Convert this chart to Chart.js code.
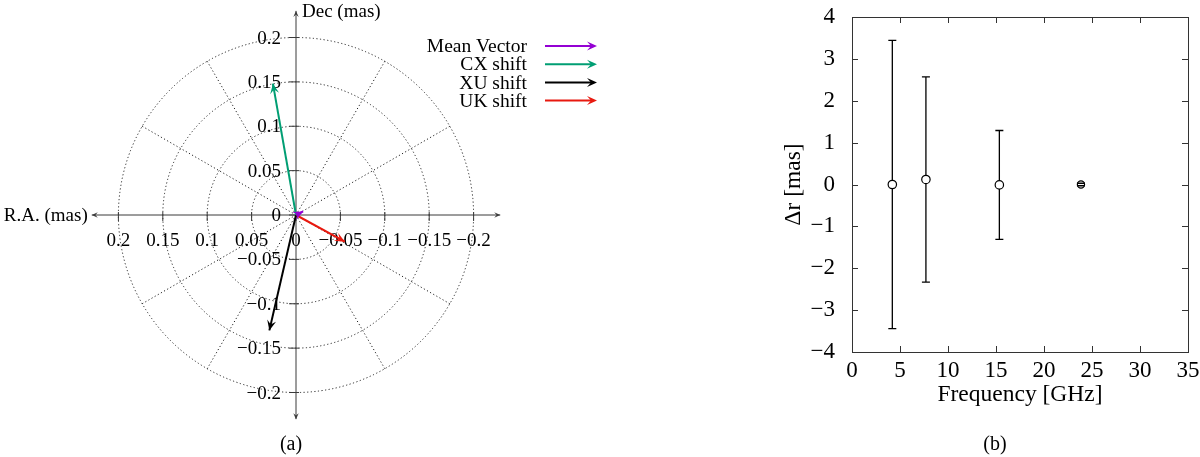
<!DOCTYPE html>
<html>
<head>
<meta charset="utf-8">
<title>Core shift vectors</title>
<script src="https://cdn.jsdelivr.net/npm/chart.js@4.4.0/dist/chart.umd.min.js"></script>
<style>
    body { margin: 0; background: #fff; width: 1200px; height: 457px; position: relative; overflow: hidden; }
    #chartA { position: absolute; left: 0; top: 0; }
    #chartB { position: absolute; left: 600px; top: 0; }
    .cap { position: absolute; top: 431px; width: 60px; text-align: center; font: 20px "Liberation Serif", serif; line-height: 24px; color: #000; }
</style>
</head>
<body>
<canvas id="chartA" width="600" height="457"></canvas>
<canvas id="chartB" width="600" height="457"></canvas>
<div class="cap" style="left:261px">(a)</div>
<div class="cap" style="left:965px">(b)</div>

<script>
// panel (a): shift vectors, R.A. / Dec in mas
const vectorNames = ['Mean Vector', 'CX shift', 'XU shift', 'UK shift'];
const vectorColors = ['#9400d3', '#009e73', '#000000', '#e8190f'];
const raShift = [-0.008, 0.026, 0.030, -0.055];
const decShift = [0.004, 0.148, -0.130, -0.030];
const ringRadii = [0.05, 0.1, 0.15, 0.2];
const spokeAngles = [30, 60, 120, 150, 210, 240, 300, 330];
const polarTicks = [-0.2, -0.15, -0.1, -0.05, 0, 0.05, 0.1, 0.15, 0.2];

// panel (b): radial offset vs frequency
const freqGHz = [4.2, 7.7, 15.35, 23.85];
const deltaR = [0.0, 0.12, -0.01, 0.0];
const deltaRErr = [3.44, 2.45, 1.30, 0.03];

const serif = '"Liberation Serif", "DejaVu Serif", serif';
const fmt = v => (v < 0 ? '\u2212' + Math.abs(v) : String(v));

function arrowHead(ctx, x0, y0, x1, y1, color, size) {
    const a = Math.atan2(y1 - y0, x1 - x0);
    const w = size * 0.45;
    ctx.save();
    ctx.translate(x1, y1);
    ctx.rotate(a);
    ctx.fillStyle = color;
    ctx.beginPath();
    ctx.moveTo(0, 0);
    ctx.lineTo(-size, -w);
    ctx.lineTo(-size * 0.6, 0);
    ctx.lineTo(-size, w);
    ctx.closePath();
    ctx.fill();
    ctx.restore();
}

const polarFrame = {
    id: 'polarFrame',
    beforeDatasetsDraw(chart) {
        const {ctx, scales: {x, y}} = chart;
        const cx = x.getPixelForValue(0), cy = y.getPixelForValue(0);
        const rMax = ringRadii[ringRadii.length - 1];
        const reach = 0.23;
        ctx.save();
        // dotted rings and spokes
        ctx.strokeStyle = '#222';
        ctx.lineWidth = 1;
        ctx.setLineDash([1.2, 2.4]);
        ringRadii.forEach(r => {
            ctx.beginPath();
            ctx.ellipse(cx, cy, Math.abs(x.getPixelForValue(r) - cx), Math.abs(y.getPixelForValue(r) - cy), 0, 0, Math.PI * 2);
            ctx.stroke();
        });
        spokeAngles.forEach(deg => {
            const t = deg * Math.PI / 180;
            ctx.beginPath();
            ctx.moveTo(cx, cy);
            ctx.lineTo(x.getPixelForValue(-rMax * Math.cos(t)), y.getPixelForValue(rMax * Math.sin(t)));
            ctx.stroke();
        });
        ctx.setLineDash([]);

        // axes through the origin, arrows on both ends
        const xl = x.getPixelForValue(reach), xr = x.getPixelForValue(-reach);
        const yt = y.getPixelForValue(reach), yb = y.getPixelForValue(-reach);
        ctx.strokeStyle = '#3a3a3a';
        ctx.beginPath();
        ctx.moveTo(xl, cy); ctx.lineTo(xr, cy);
        ctx.moveTo(cx, yt); ctx.lineTo(cx, yb);
        ctx.stroke();
        arrowHead(ctx, cx, cy, xl, cy, '#3a3a3a', 6);
        arrowHead(ctx, cx, cy, xr, cy, '#3a3a3a', 6);
        arrowHead(ctx, cx, cy, cx, yt, '#3a3a3a', 6);
        arrowHead(ctx, cx, cy, cx, yb, '#3a3a3a', 6);

        // ticks and tick labels
        ctx.fillStyle = '#000';
        ctx.font = '19px ' + serif;
        ctx.textBaseline = 'alphabetic';
        polarTicks.forEach(v => {
            const px = x.getPixelForValue(v);
            const py = y.getPixelForValue(v);
            ctx.beginPath();
            ctx.moveTo(px, cy - 3); ctx.lineTo(px, cy + 6);
            ctx.moveTo(cx - 7, py); ctx.lineTo(cx + 3, py);
            ctx.stroke();
            ctx.textAlign = 'center';
            ctx.fillText(fmt(v), px, cy + 31);
            ctx.textAlign = 'right';
            ctx.fillText(fmt(v), cx - 15, py + 6);
        });

        // axis names
        ctx.textAlign = 'right';
        ctx.fillText('R.A. (mas)', xl - 4, cy + 6);
        ctx.textAlign = 'left';
        ctx.fillText('Dec (mas)', cx + 6, yt + 6);
        ctx.restore();
    },
    afterDatasetsDraw(chart) {
        const {ctx} = chart;
        for (let i = chart.data.datasets.length - 1; i >= 0; i--) {
            const pts = chart.getDatasetMeta(i).data;
            const ds = chart.data.datasets[i];
            arrowHead(ctx, pts[0].x, pts[0].y, pts[1].x, pts[1].y, ds.borderColor, 10);
        }
        // legend, text left of a short arrow
        ctx.save();
        ctx.font = '19.5px ' + serif;
        ctx.textAlign = 'right';
        ctx.textBaseline = 'middle';
        chart.data.datasets.forEach((ds, i) => {
            const ly = 46 + i * 18.2;
            ctx.fillStyle = '#000';
            ctx.fillText(ds.label, 527, ly + 1);
            ctx.strokeStyle = ds.borderColor;
            ctx.lineWidth = 2;
            ctx.beginPath();
            ctx.moveTo(545, ly); ctx.lineTo(592, ly);
            ctx.stroke();
            arrowHead(ctx, 545, ly, 597, ly, ds.borderColor, 10);
        });
        ctx.restore();
    }
};

new Chart(document.getElementById('chartA'), {
    type: 'scatter',
    data: {
        datasets: vectorNames.map((name, i) => ({
            label: name,
            data: [{x: 0, y: 0}, {x: raShift[i], y: decShift[i]}],
            showLine: true,
            borderColor: vectorColors[i],
            backgroundColor: vectorColors[i],
            borderWidth: 2,
            pointRadius: 0
        }))
    },
    options: {
        responsive: false,
        animation: false,
        layout: { padding: { left: 74, right: 82, top: 2, bottom: 29 } },
        scales: {
            x: { type: 'linear', min: -0.25, max: 0.25, reverse: true, display: false },
            y: { type: 'linear', min: -0.24, max: 0.24, display: false }
        },
        plugins: { legend: { display: false }, tooltip: { enabled: false } }
    },
    plugins: [polarFrame]
});

// panel (b) helpers: error bars and inward ticks on all four sides
const errorBars = {
    id: 'errorBars',
    afterDatasetsDraw(chart) {
        const {ctx, scales: {x, y}} = chart;
        const meta = chart.getDatasetMeta(0);
        ctx.save();
        ctx.strokeStyle = '#000';
        ctx.lineWidth = 1.3;
        freqGHz.forEach((f, i) => {
            const px = x.getPixelForValue(f);
            const pc = y.getPixelForValue(deltaR[i]);
            const pt = y.getPixelForValue(deltaR[i] + deltaRErr[i]);
            const pb = y.getPixelForValue(deltaR[i] - deltaRErr[i]);
            const r = meta.data[i].options.radius;
            ctx.beginPath();
            if (pc - r > pt) { ctx.moveTo(px, pt); ctx.lineTo(px, pc - r); }
            if (pc + r < pb) { ctx.moveTo(px, pc + r); ctx.lineTo(px, pb); }
            ctx.moveTo(px - 4, pt); ctx.lineTo(px + 4, pt);
            ctx.moveTo(px - 4, pb); ctx.lineTo(px + 4, pb);
            ctx.stroke();
        });
        ctx.restore();
    },
    afterDraw(chart) {
        const {ctx, chartArea: a, scales: {x, y}} = chart;
        ctx.save();
        ctx.strokeStyle = '#333';
        ctx.lineWidth = 1;
        ctx.strokeRect(a.left + 0.5, a.top + 0.5, a.right - a.left, a.bottom - a.top);
        ctx.beginPath();
        x.ticks.forEach(t => {
            const px = Math.round(x.getPixelForValue(t.value)) + 0.5;
            ctx.moveTo(px, a.bottom); ctx.lineTo(px, a.bottom - 6);
            ctx.moveTo(px, a.top); ctx.lineTo(px, a.top + 6);
        });
        y.ticks.forEach(t => {
            const py = Math.round(y.getPixelForValue(t.value)) + 0.5;
            ctx.moveTo(a.left, py); ctx.lineTo(a.left + 6, py);
            ctx.moveTo(a.right, py); ctx.lineTo(a.right - 6, py);
        });
        ctx.stroke();
        ctx.restore();
    }
};

new Chart(document.getElementById('chartB'), {
    type: 'scatter',
    data: {
        datasets: [{
            label: 'Δr',
            data: freqGHz.map((f, i) => ({x: f, y: deltaR[i]})),
            pointRadius: [4.2, 4.2, 4.2, 3.6],
            pointBorderColor: '#000',
            pointBackgroundColor: '#fff',
            pointBorderWidth: 1.2
        }]
    },
    options: {
        responsive: false,
        animation: false,
        layout: { autoPadding: false, padding: { left: 180, right: 12, top: 17, bottom: 48 } },
        scales: {
            x: {
                type: 'linear', min: 0, max: 35,
                grid: { display: false, drawTicks: false },
                border: { display: false },
                ticks: { stepSize: 5, padding: 5, color: '#000', font: { family: serif, size: 23 } },
                title: { display: true, text: 'Frequency [GHz]', padding: 0, color: '#000', font: { family: serif, size: 23.5 } },
                afterFit(s) { s.height = 57; s.paddingLeft = 0; s.paddingRight = 0; }
            },
            y: {
                type: 'linear', min: -4, max: 4,
                grid: { display: false, drawTicks: false },
                border: { display: false },
                ticks: { stepSize: 1, padding: 17, color: '#000', font: { family: serif, size: 23 }, callback: fmt },
                title: { display: true, text: 'Δr [mas]', padding: 0, color: '#000', font: { family: serif, size: 23.5 } },
                afterFit(s) { s.width = 72; s.paddingTop = 0; s.paddingBottom = 0; }
            }
        },
        plugins: { legend: { display: false }, tooltip: { enabled: false } }
    },
    plugins: [errorBars]
});
</script>
</body>
</html>
